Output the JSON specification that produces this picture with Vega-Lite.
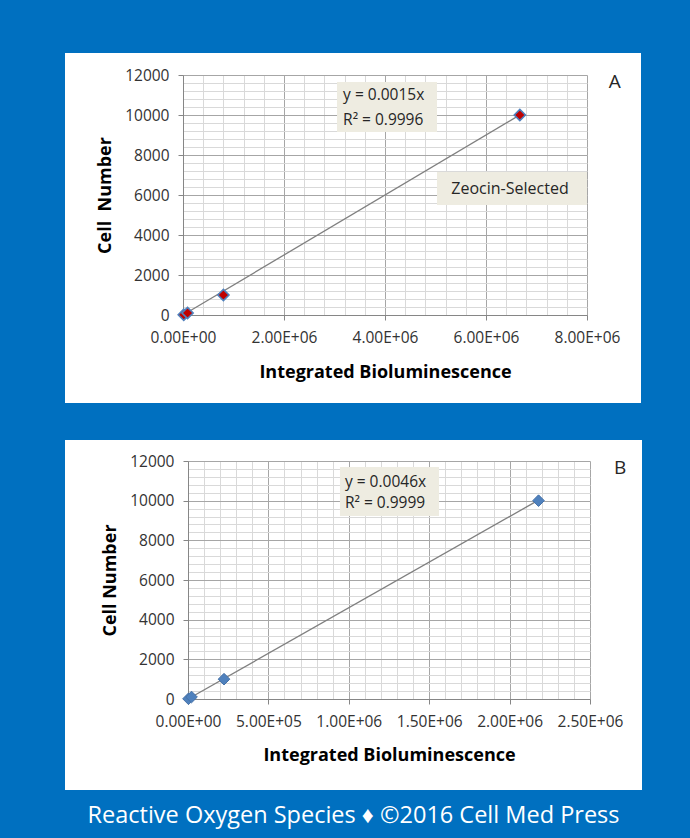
{
  "$schema": "https://vega.github.io/schema/vega-lite/v6.json",
  "background": "#0070c0",
  "padding": {"left": 65, "top": 53, "right": 48, "bottom": 48},
  "spacing": 37,
  "title": {
    "text": "Reactive Oxygen Species ♦ ©2016 Cell Med Press",
    "orient": "bottom",
    "anchor": "middle",
    "color": "white",
    "font": "Open Sans",
    "fontSize": 23.5,
    "fontWeight": "normal",
    "offset": 14
  },
  "config": {
    "view": {"fill": "white", "stroke": null},
    "font": "Open Sans",
    "axis": {
      "labelFont": "Open Sans",
      "labelFontSize": 15.5,
      "labelColor": "#333333",
      "titleFont": "Open Sans",
      "titleFontSize": 18,
      "titleFontWeight": "bold",
      "titleColor": "#000000",
      "domainColor": "#868686",
      "tickColor": "#868686",
      "gridWidth": 1,
      "labelFlush": false,
      "labelOverlap": false,
      "labelBound": false
    }
  },
  "vconcat": [
    {
      "width": 576,
      "height": 350,
      "resolve": {"axis": {"x": "independent", "y": "independent"}},
      "layer": [
        {
          "data": {"values": [{"x": 0, "y": 0}, {"x": 6670000, "y": 10005}]},
          "mark": {"type": "line", "color": "#7f7f7f", "strokeWidth": 1.3},
          "encoding": {
            "x": {"field": "x", "type": "quantitative",
              "scale": {"domain": [0, 8000000], "range": [118, 522], "nice": false, "zero": false},
              "axis": {"orient": "top", "grid": true, "gridColor": "#d9d9d9", "labels": false, "ticks": false, "domain": false, "title": null,
                "values": [0,400000,800000,1200000,1600000,2000000,2400000,2800000,3200000,3600000,4000000,4400000,4800000,5200000,5600000,6000000,6400000,6800000,7200000,7600000,8000000]}},
            "y": {"field": "y", "type": "quantitative",
              "scale": {"domain": [0, 12000], "range": [262, 22], "nice": false, "zero": false},
              "axis": {"orient": "left", "offset": -118, "grid": true, "gridColor": "#d9d9d9", "labels": false, "ticks": false, "domain": false, "title": null,
                "values": [0,400,800,1200,1600,2000,2400,2800,3200,3600,4000,4400,4800,5200,5600,6000,6400,6800,7200,7600,8000,8400,8800,9200,9600,10000,10400,10800,11200,11600,12000]}}
          }
        },
        {
          "data": {"values": [
            {"x": 15000, "y": 10},
            {"x": 90000, "y": 100},
            {"x": 800000, "y": 1000},
            {"x": 6670000, "y": 10000}
          ]},
          "mark": {"type": "point", "shape": "diamond", "filled": true, "fill": "#c00000", "stroke": "#4f81bd", "strokeWidth": 1.6, "opacity": 1, "size": 125},
          "encoding": {
            "x": {"field": "x", "type": "quantitative",
              "scale": {"domain": [0, 8000000], "range": [118, 522], "nice": false, "zero": false},
              "axis": {"orient": "bottom", "offset": -88, "grid": false, "values": [0, 2000000, 4000000, 6000000, 8000000],
                "labelExpr": "datum.value == 0 ? '0.00E+00' : format(datum.value / 1000000, '.2f') + 'E+06'",
                "tickSize": 5, "labelPadding": 10, "titlePadding": 18, "title": "Integrated Bioluminescence"}},
            "y": {"field": "y", "type": "quantitative",
              "scale": {"domain": [0, 12000], "range": [262, 22], "nice": false, "zero": false},
              "axis": {"orient": "left", "offset": -118, "grid": true, "gridColor": "#a6a6a6", "values": [0, 2000, 4000, 6000, 8000, 10000, 12000],
                "format": "d", "tickSize": 5, "labelPadding": 9, "titlePadding": 10, "title": "Cell\u00a0 Number"}}
          }
        },
        {
          "data": {"values": [{"box": "equation"}]},
          "mark": {"type": "rect", "fill": "#eeece1"},
          "encoding": {
            "x": {"datum": 3050000, "type": "quantitative", "scale": {"domain": [0, 8000000], "range": [118, 522], "nice": false, "zero": false},
              "axis": {"orient": "top", "grid": true, "gridColor": "#a6a6a6", "labels": false, "ticks": false, "domain": false, "title": null,
                "values": [0, 2000000, 4000000, 6000000, 8000000]}},
            "x2": {"datum": 5030000},
            "y": {"datum": 11650, "type": "quantitative", "scale": {"domain": [0, 12000], "range": [262, 22], "nice": false, "zero": false}, "axis": null},
            "y2": {"datum": 9150}
          }
        },
        {
          "data": {"values": [{"box": "series"}]},
          "mark": {"type": "rect", "fill": "#eeece1"},
          "encoding": {
            "x": {"datum": 5030000, "type": "quantitative", "scale": {"domain": [0, 8000000], "range": [118, 522], "nice": false, "zero": false}, "axis": null},
            "x2": {"datum": 8000000},
            "y": {"datum": 7150, "type": "quantitative", "scale": {"domain": [0, 12000], "range": [262, 22], "nice": false, "zero": false}, "axis": null},
            "y2": {"datum": 5500}
          }
        },
        {
          "data": {"values": [
            {"label": "y = 0.0015x", "x": 3170000, "y": 11000},
            {"label": "R² = 0.9996", "x": 3170000, "y": 9750}
          ]},
          "mark": {"type": "text", "align": "left", "baseline": "middle", "fontSize": 15.5, "color": "#262626"},
          "encoding": {
            "x": {"field": "x", "type": "quantitative", "scale": {"domain": [0, 8000000], "range": [118, 522], "nice": false, "zero": false}, "axis": null},
            "y": {"field": "y", "type": "quantitative", "scale": {"domain": [0, 12000], "range": [262, 22], "nice": false, "zero": false}, "axis": null},
            "text": {"field": "label"}
          }
        },
        {
          "data": {"values": [
            {"label": "Zeocin-Selected", "x": 6475000, "y": 6300, "size": 16},
            {"label": "A", "x": 8550000, "y": 11650, "size": 19}
          ]},
          "mark": {"type": "text", "align": "center", "baseline": "middle", "color": "#262626"},
          "encoding": {
            "x": {"field": "x", "type": "quantitative", "scale": {"domain": [0, 8000000], "range": [118, 522], "nice": false, "zero": false}, "axis": null},
            "y": {"field": "y", "type": "quantitative", "scale": {"domain": [0, 12000], "range": [262, 22], "nice": false, "zero": false}, "axis": null},
            "text": {"field": "label"},
            "size": {"field": "size", "type": "quantitative", "scale": null, "legend": null}
          }
        }
      ]
    },
    {
      "width": 577,
      "height": 350,
      "resolve": {"axis": {"x": "independent", "y": "independent"}},
      "layer": [
        {
          "data": {"values": [{"x": 0, "y": 0}, {"x": 2180000, "y": 10028}]},
          "mark": {"type": "line", "color": "#7f7f7f", "strokeWidth": 1.3},
          "encoding": {
            "x": {"field": "x", "type": "quantitative",
              "scale": {"domain": [0, 2500000], "range": [123, 525], "nice": false, "zero": false},
              "axis": {"orient": "top", "grid": true, "gridColor": "#d9d9d9", "labels": false, "ticks": false, "domain": false, "title": null,
                "values": [0,100000,200000,300000,400000,500000,600000,700000,800000,900000,1000000,1100000,1200000,1300000,1400000,1500000,1600000,1700000,1800000,1900000,2000000,2100000,2200000,2300000,2400000,2500000]}},
            "y": {"field": "y", "type": "quantitative",
              "scale": {"domain": [0, 12000], "range": [259, 21], "nice": false, "zero": false},
              "axis": {"orient": "left", "offset": -123, "grid": true, "gridColor": "#d9d9d9", "labels": false, "ticks": false, "domain": false, "title": null,
                "values": [0,400,800,1200,1600,2000,2400,2800,3200,3600,4000,4400,4800,5200,5600,6000,6400,6800,7200,7600,8000,8400,8800,9200,9600,10000,10400,10800,11200,11600,12000]}}
          }
        },
        {
          "data": {"values": [
            {"x": 3000, "y": 10},
            {"x": 22000, "y": 100},
            {"x": 224000, "y": 1000},
            {"x": 2180000, "y": 10000}
          ]},
          "mark": {"type": "point", "shape": "diamond", "filled": true, "fill": "#4f81bd", "stroke": "#4672a8", "strokeWidth": 1, "opacity": 1, "size": 135},
          "encoding": {
            "x": {"field": "x", "type": "quantitative",
              "scale": {"domain": [0, 2500000], "range": [123, 525], "nice": false, "zero": false},
              "axis": {"orient": "bottom", "offset": -91, "grid": false, "values": [0, 500000, 1000000, 1500000, 2000000, 2500000],
                "labelExpr": "datum.value == 0 ? '0.00E+00' : datum.value < 1000000 ? format(datum.value / 100000, '.2f') + 'E+05' : format(datum.value / 1000000, '.2f') + 'E+06'",
                "tickSize": 5, "labelPadding": 10, "titlePadding": 17, "title": "Integrated Bioluminescence"}},
            "y": {"field": "y", "type": "quantitative",
              "scale": {"domain": [0, 12000], "range": [259, 21], "nice": false, "zero": false},
              "axis": {"orient": "left", "offset": -123, "grid": true, "gridColor": "#a6a6a6", "values": [0, 2000, 4000, 6000, 8000, 10000, 12000],
                "format": "d", "tickSize": 5, "labelPadding": 9, "titlePadding": 10, "title": "Cell Number"}}
          }
        },
        {
          "data": {"values": [{"box": "equation"}]},
          "mark": {"type": "rect", "fill": "#eeece1"},
          "encoding": {
            "x": {"datum": 945000, "type": "quantitative", "scale": {"domain": [0, 2500000], "range": [123, 525], "nice": false, "zero": false},
              "axis": {"orient": "top", "grid": true, "gridColor": "#a6a6a6", "labels": false, "ticks": false, "domain": false, "title": null,
                "values": [0, 500000, 1000000, 1500000, 2000000, 2500000]}},
            "x2": {"datum": 1561000},
            "y": {"datum": 11697, "type": "quantitative", "scale": {"domain": [0, 12000], "range": [259, 21], "nice": false, "zero": false}, "axis": null},
            "y2": {"datum": 9227}
          }
        },
        {
          "data": {"values": [
            {"label": "y = 0.0046x", "x": 976000, "y": 10941},
            {"label": "R² = 0.9999", "x": 976000, "y": 9882}
          ]},
          "mark": {"type": "text", "align": "left", "baseline": "middle", "fontSize": 15.5, "color": "#262626"},
          "encoding": {
            "x": {"field": "x", "type": "quantitative", "scale": {"domain": [0, 2500000], "range": [123, 525], "nice": false, "zero": false}, "axis": null},
            "y": {"field": "y", "type": "quantitative", "scale": {"domain": [0, 12000], "range": [259, 21], "nice": false, "zero": false}, "axis": null},
            "text": {"field": "label"}
          }
        },
        {
          "data": {"values": [{"label": "B", "x": 2687000, "y": 11647}]},
          "mark": {"type": "text", "align": "center", "baseline": "middle", "fontSize": 19, "color": "#262626"},
          "encoding": {
            "x": {"field": "x", "type": "quantitative", "scale": {"domain": [0, 2500000], "range": [123, 525], "nice": false, "zero": false}, "axis": null},
            "y": {"field": "y", "type": "quantitative", "scale": {"domain": [0, 12000], "range": [259, 21], "nice": false, "zero": false}, "axis": null},
            "text": {"field": "label"}
          }
        }
      ]
    }
  ]
}
